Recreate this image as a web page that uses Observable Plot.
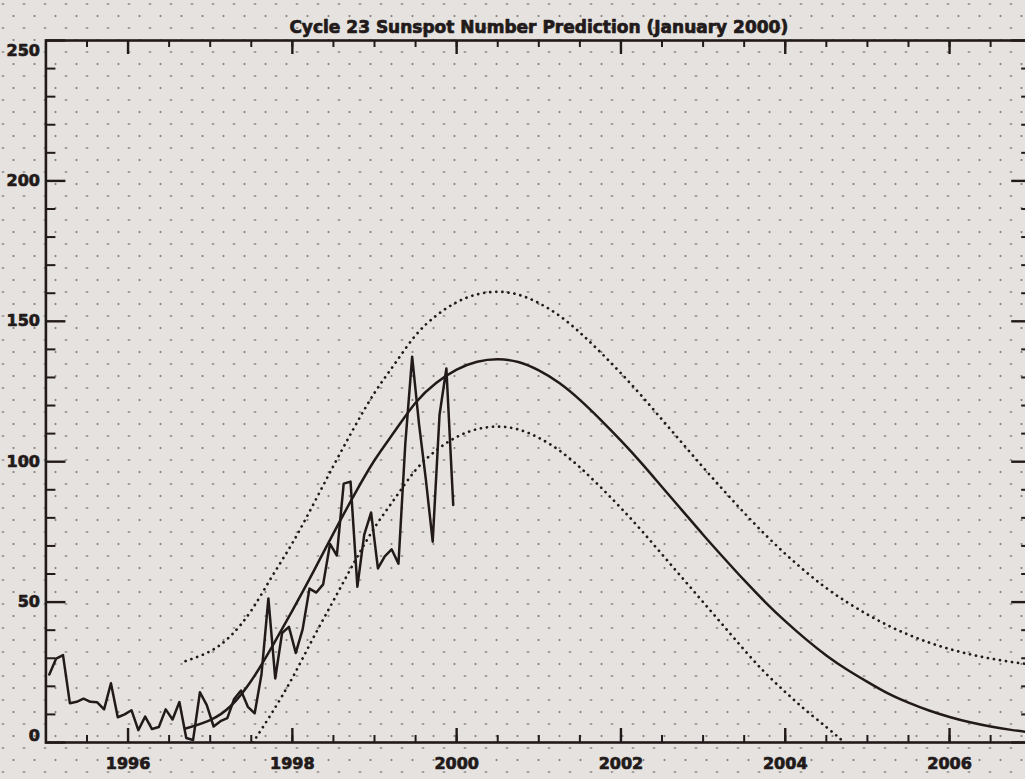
<!DOCTYPE html>
<html>
<head>
<meta charset="utf-8">
<script src="https://cdn.jsdelivr.net/npm/d3@7"></script>
<script src="https://cdn.jsdelivr.net/npm/@observablehq/plot@0.6"></script>
<style>
html, body { margin: 0; padding: 0; overflow: hidden; }
body {
  width: 1025px; height: 779px;
  background-color: #e5e2df;
  background-image:
    radial-gradient(circle, rgba(60,50,50,0.55) 0.8px, transparent 1.3px),
    radial-gradient(circle, rgba(60,50,50,0.55) 0.8px, transparent 1.3px);
  background-size: 21px 24px;
  background-position: 3px 4px, 13.5px 16px;
}
#chart svg { display: block; overflow: visible; max-width: none !important; }
</style>
</head>
<body>
<div id="chart"></div>
<script>
// ---- data ----
const title = "Cycle 23 Sunspot Number Prediction (January 2000)";

// observed monthly sunspot numbers, Jan 1995 .. Dec 1999
const obsYears = [1995, 1996, 1997, 1998, 1999];
const obs1995 = [24.2, 29.9, 31.1, 14.0, 14.5, 15.6, 14.5, 14.3, 11.8, 21.1, 9.0, 10.0];
const obs1996 = [11.5, 4.4, 9.2, 4.8, 5.5, 11.8, 8.2, 14.4, 1.6, 0.9, 17.9, 13.3];
const obs1997 = [5.7, 7.6, 8.7, 15.5, 18.5, 12.7, 10.4, 24.4, 51.3, 22.8, 39.0, 41.2];
const obs1998 = [31.9, 40.3, 54.8, 53.4, 56.3, 70.7, 66.6, 92.2, 92.9, 55.5, 74.0, 81.9];
const obs1999 = [62.0, 66.3, 68.8, 63.7, 106.4, 137.4, 113.5, 93.7, 71.5, 116.7, 133.2, 84.6];

// predicted curve (solid) and upper / lower bounds (dotted)
const predX = [1996.7, 1997.0, 1997.25, 1997.5, 1997.75, 1998.0, 1998.25, 1998.5, 1998.75, 1999.0,
  1999.25, 1999.5, 1999.75, 2000.0, 2000.25, 2000.5, 2000.75, 2001.0, 2001.25, 2001.5,
  2001.75, 2002.0, 2002.25, 2002.5, 2002.75, 2003.0, 2003.25, 2003.5, 2003.75, 2004.0,
  2004.25, 2004.5, 2004.75, 2005.0, 2005.25, 2005.5, 2005.75, 2006.0, 2006.25, 2006.5,
  2006.75, 2007.0];
const predMid = [5, 8, 13, 22, 34, 47, 60.5, 74.5, 88, 100.5,
  111, 121, 128, 132.8, 135.6, 136.5, 135.5, 132.5, 128, 122,
  115, 107.5, 99.5, 91, 82.5, 74, 65.8, 57.8, 50.2, 43.2,
  36.8, 31, 26, 21.6, 17.5, 14.2, 11.4, 9.1, 7.2, 5.7,
  4.5, 3.5];
const predUpper = [29, 32.5, 38, 47, 59, 71, 84.5, 98.5, 112, 124.5,
  135, 145, 152, 156.8, 159.6, 160.5, 159.5, 156.5, 152, 146,
  139, 131.5, 123.5, 115, 106.5, 98, 89.8, 81.8, 74.2, 67.2,
  60.8, 55, 50, 45.6, 41.7, 38.4, 35.6, 33.3, 31.4, 29.9,
  28.7, 27.7];
const lowerX = [1997.52, 1997.75, 1998.0, 1998.25, 1998.5, 1998.75, 1999.0, 1999.25, 1999.5, 1999.75,
  2000.0, 2000.25, 2000.5, 2000.75, 2001.0, 2001.25, 2001.5, 2001.75, 2002.0, 2002.25,
  2002.5, 2002.75, 2003.0, 2003.25, 2003.5, 2003.75, 2004.0, 2004.25, 2004.5, 2004.72];
const predLower = [0, 10.5, 23, 37, 50.5, 64, 76.5, 87, 97, 104,
  108.8, 111.6, 112.5, 111.5, 108.5, 104, 98, 91, 83.5, 75.5,
  67, 58.5, 50, 41.5, 33, 25, 18, 11.5, 5.5, 0];

// axes
const xDomain = [1995, 2007];
const yDomain = [0, 250];
const xMajorTicks = [1996, 1998, 2000, 2002, 2004, 2006];
const xMinorTicks = [1995.5, 1996, 1996.5, 1997, 1997.5, 1998, 1998.5, 1999, 1999.5, 2000, 2000.5,
  2001, 2001.5, 2002, 2002.5, 2003, 2003.5, 2004, 2004.5, 2005, 2005.5, 2006, 2006.5];
const yMajorTicks = [0, 50, 100, 150, 200, 250];
const yMinorTicks = [10, 20, 30, 40, 60, 70, 80, 90, 110, 120, 130, 140, 160, 170, 180, 190,
  210, 220, 230, 240];

// ---- build tables ----
const obsAll = [obs1995, obs1996, obs1997, obs1998, obs1999];
const observed = [];
obsYears.forEach((yr, i) => obsAll[i].forEach((v, m) => observed.push({t: yr + (m + 0.5) / 12, v})));
const mid = predX.map((t, i) => ({t, v: predMid[i]}));
const upper = predX.map((t, i) => ({t, v: predUpper[i]}));
const lower = lowerX.map((t, i) => ({t, v: predLower[i]}));

// ---- layout ----
const W = 1040, H = 779;
const mL = 45.4, mR = 8.8, mT = 40, mB = 37;
const plotW = W - mL - mR, plotH = H - mT - mB;
const ink = "#221a1a";
const font = "'DejaVu Sans', 'Liberation Sans', Arial, sans-serif";
const label = {fontSize: 16, fontWeight: "bold", fill: ink, stroke: ink, strokeWidth: 0.7};

const chart = Plot.plot({
  width: W, height: H,
  marginLeft: mL, marginRight: mR, marginTop: mT, marginBottom: mB,
  x: {domain: xDomain, axis: null},
  y: {domain: yDomain, axis: null},
  style: {background: "transparent", fontFamily: font, color: ink, maxWidth: "none"},
  marks: [
    // inward tick marks (bottom / top / left / right)
    Plot.ruleX(xMinorTicks, {x: d => d, insetTop: plotH - 7, stroke: ink, strokeWidth: 2}),
    Plot.ruleX(xMajorTicks, {x: d => d, insetTop: plotH - 14, stroke: ink, strokeWidth: 2.4}),
    Plot.ruleX(xMinorTicks, {x: d => d, insetBottom: plotH - 7, stroke: ink, strokeWidth: 2}),
    Plot.ruleX(xMajorTicks, {x: d => d, insetBottom: plotH - 14, stroke: ink, strokeWidth: 2.4}),
    Plot.ruleY(yMinorTicks, {y: d => d, insetRight: plotW - 10, stroke: ink, strokeWidth: 2}),
    Plot.ruleY(yMajorTicks, {y: d => d, insetRight: plotW - 20, stroke: ink, strokeWidth: 2.4}),
    Plot.ruleY(yMinorTicks, {y: d => d, insetLeft: plotW - 10, stroke: ink, strokeWidth: 2}),
    Plot.ruleY(yMajorTicks, {y: d => d, insetLeft: plotW - 20, stroke: ink, strokeWidth: 2.4}),
    // data
    Plot.line(upper, {x: "t", y: "v", curve: "natural", stroke: ink, strokeWidth: 2.7,
      strokeDasharray: "0.1,6", strokeLinecap: "round", clip: true}),
    Plot.line(lower, {x: "t", y: "v", curve: "natural", stroke: ink, strokeWidth: 2.7,
      strokeDasharray: "0.1,6", strokeLinecap: "round", clip: true}),
    Plot.line(mid, {x: "t", y: "v", curve: "natural", stroke: ink, strokeWidth: 2.5, clip: true}),
    Plot.line(observed, {x: "t", y: "v", stroke: ink, strokeWidth: 2.5}),
    // frame
    Plot.frame({stroke: ink, strokeWidth: 2.6}),
    // tick labels
    Plot.text(xMajorTicks, {x: d => d, frameAnchor: "bottom", dy: 26, text: d => String(d), ...label}),
    Plot.text(yMajorTicks.filter(d => d > 0 && d < 250), {y: d => d, frameAnchor: "left", textAnchor: "end",
      dx: -6, text: d => String(d), ...label}),
    Plot.text(yMajorTicks.filter(d => d === 0), {y: d => d, frameAnchor: "left", textAnchor: "end",
      dx: -6, dy: -7, text: d => String(d), ...label}),
    Plot.text(yMajorTicks.filter(d => d === 250), {y: d => d, frameAnchor: "left", textAnchor: "end",
      dx: -6, dy: 10, text: d => String(d), ...label}),
    // title
    Plot.text([title], {frameAnchor: "top", dy: -20, text: d => d, ...label, fontSize: 17})
  ]
});
document.getElementById("chart").append(chart);
</script>
</body>
</html>
